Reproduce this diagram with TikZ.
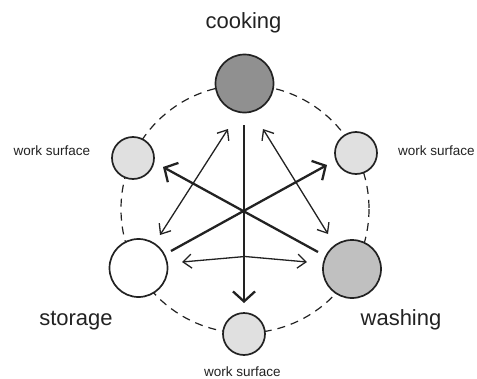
\documentclass[tikz,border=0pt]{standalone}
\usepackage{fontspec}
\setmainfont{Liberation Sans}
\usetikzlibrary{arrows.meta,calc}

\definecolor{inkc}{HTML}{222222}
\definecolor{cookfill}{HTML}{909090}
\definecolor{washfill}{HTML}{C0C0C0}
\definecolor{surffill}{HTML}{E0E0E0}

\tikzset{
  station/.style={circle, draw=inkc, line width=1.7pt, inner sep=0pt},
  bigst/.style={station, minimum size=58pt},
  smallst/.style={station, minimum size=42pt, fill=surffill},
  biglabel/.style={font=\fontsize{22}{26}\selectfont, text=inkc, anchor=base, inner sep=0pt},
  smalllabel/.style={font=\fontsize{13.5}{16}\selectfont, text=inkc, anchor=base, inner sep=0pt},
  thickarrow/.style={draw=inkc, line width=2.3pt, -{Straight Barb[length=10pt, width=22pt, line width=2.3pt]}},
  thinarrow/.style={draw=inkc, line width=1.3pt, {Straight Barb[length=8.5pt, width=14pt, line width=1.3pt]}-{Straight Barb[length=8.5pt, width=14pt, line width=1.3pt]}},
  ring/.style={draw=inkc, line width=1.2pt, dash pattern=on 8pt off 6pt}
}

\begin{document}
\begin{tikzpicture}[x=1pt, y=-1pt]
\useasboundingbox (0,0) rectangle (477,378);

% dashed ring linking the stations
\draw[ring] (245,209) circle[radius=124];

% stations
\node[bigst, fill=cookfill] (cook) at (244.5,83.5) {};
\node[bigst, fill=washfill] (wash) at (352,269) {};
\node[bigst, fill=white]    (stor) at (138.5,268) {};
\node[smallst] (wsL) at (133,158) {};
\node[smallst] (wsR) at (356,153) {};
\node[smallst] (wsB) at (244,334) {};

% labels
\node[biglabel] (tcook) at (243.5,28) {cooking};
\node[biglabel] (tstor) at (76,325) {storage};
\node[biglabel] (twash) at (401,325) {washing};
\node[smalllabel] (tL) at (52,155) {work surface};
\node[smalllabel] (tR) at (436.5,155) {work surface};
\node[smalllabel] (tB) at (242.5,376) {work surface};

% arrow end points
\coordinate (cookOut) at (244,125);
\coordinate (wsBIn)   at (244,303);
\coordinate (washOut) at (318,252);
\coordinate (wsLIn)   at (163,167);
\coordinate (storOut) at (171,251);
\coordinate (wsRIn)   at (327,165);
\coordinate (cookL)   at (228,129);
\coordinate (storT)   at (160,235);
\coordinate (cookR)   at (263,129);
\coordinate (washT)   at (328,234);
\coordinate (storR)   at (182,262);
\coordinate (washL)   at (307,262);

% main movements
\draw[thickarrow] (cookOut) -- (wsBIn);
\draw[thickarrow] (washOut) -- (wsLIn);
\draw[thickarrow] (storOut) -- (wsRIn);

% two-way movements
\draw[thinarrow] (cookL) -- (storT);
\draw[thinarrow] (cookR) -- (washT);
\draw[thinarrow] (storR) -- (245,256.5) -- (washL);
\end{tikzpicture}
\end{document}
